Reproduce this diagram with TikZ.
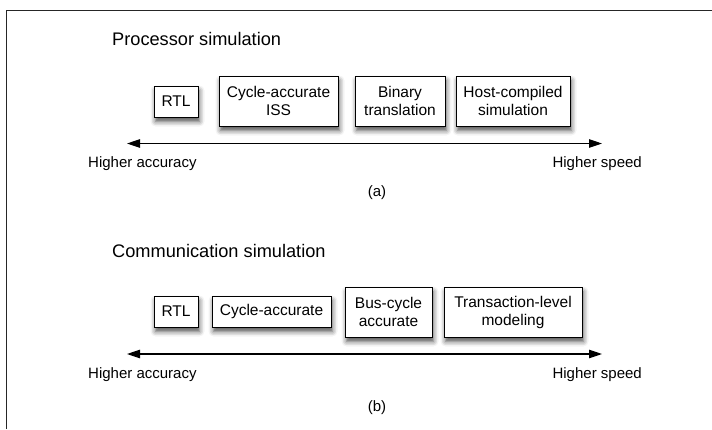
\documentclass[tikz,border=0pt]{standalone}
\usepackage{fontspec}
\setmainfont{Liberation Sans}
\usetikzlibrary{arrows.meta,shadows.blur}
\tikzset{
  simbox/.style={draw=black, line width=0.9pt, fill=white, align=center, inner sep=0pt,
    font=\fontsize{15.5}{18}\selectfont,
    blur shadow={shadow xshift=1.5pt, shadow yshift=-4.5pt, shadow blur radius=5pt, shadow opacity=70}},
  simtitle/.style={anchor=west, inner sep=0pt, font=\fontsize{18.2}{21}\selectfont},
  axislabel/.style={inner sep=0pt, font=\fontsize{15}{18}\selectfont},
  axisline/.style={line width=1.1pt, {Triangle[length=13pt,width=8.5pt]}-{Triangle[length=13pt,width=8.5pt]}}
}
\begin{document}
\begin{tikzpicture}[x=1pt, y=-1pt]
			%%%%% START %%%%%
			\useasboundingbox (0, 0) rectangle (712, 429);
			
			\draw[line width=1.5pt, color=black!85] (6.3, 429) -- (6.3, 10.7) -- (712, 10.7);
			
			%%%%% (a) processor simulation %%%%%
			\node[simtitle] (titleA) at (112, 39) {Processor simulation};
			
			\node[simbox, minimum width=44pt, minimum height=31pt] (rtlA) at (176, 101.5) {RTL};
			\node[simbox, minimum width=119pt, minimum height=50pt] (issA) at (278.5, 101) {Cycle-accurate\\ISS};
			\node[simbox, minimum width=90pt, minimum height=50pt] (binA) at (400, 101) {Binary\\translation};
			\node[simbox, minimum width=114pt, minimum height=50pt] (hostA) at (513, 101) {Host-compiled\\simulation};
			
			\coordinate (leftA) at (127, 143.5);
			\coordinate (rightA) at (602, 143.5);
			\draw[axisline] (leftA) -- (rightA);
			
			\node[axislabel, anchor=west] (accA) at (88, 163.5) {Higher accuracy};
			\node[axislabel, anchor=east] (spdA) at (642, 163.5) {Higher speed};
			\node[axislabel] (capA) at (377, 193) {(a)};
			
			%%%%% (b) communication simulation %%%%%
			\node[simtitle] (titleB) at (112, 251) {Communication simulation};
			
			\node[simbox, minimum width=44pt, minimum height=31pt] (rtlB) at (176, 311.5) {RTL};
			\node[simbox, minimum width=119pt, minimum height=31pt] (cycB) at (271.5, 311.5) {Cycle-accurate};
			\node[simbox, minimum width=87pt, minimum height=50pt] (busB) at (388.5, 312) {Bus-cycle\\accurate};
			\node[simbox, minimum width=138pt, minimum height=50pt] (tlmB) at (513, 312) {Transaction-level\\modeling};
			
			\coordinate (leftB) at (127, 354);
			\coordinate (rightB) at (602, 354);
			\draw[axisline] (leftB) -- (rightB);
			
			\node[axislabel, anchor=west] (accB) at (88, 374.5) {Higher accuracy};
			\node[axislabel, anchor=east] (spdB) at (642, 374.5) {Higher speed};
			\node[axislabel] (capB) at (377, 408) {(b)};
			
			%%%%% END %%%%%
\end{tikzpicture}
\end{document}
